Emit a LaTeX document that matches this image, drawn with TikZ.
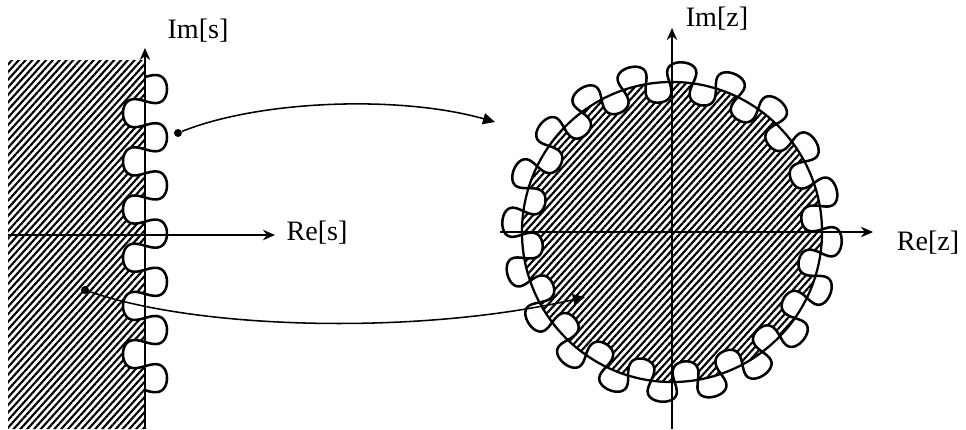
\documentclass[tikz,border=0pt]{standalone}
\usepackage{fontspec}
\setmainfont{Liberation Serif}
\usetikzlibrary{arrows.meta,patterns.meta}
\tikzset{
  axis/.style={-{Stealth[length=3mm, width=2.6mm]}, draw=black},
  coil/.style={draw=black, line width=1.8pt, line join=round},
  hatch/.style={pattern={Lines[angle=48, distance=3.6pt, line width=1.5pt]}, pattern color=black},
  mapto/.style={-{Triangle[length=3mm, width=2.8mm]}, draw=black, line width=1.1pt},
  dotnode/.style={circle, fill=black, inner sep=0pt, minimum size=2mm},
  lbl/.style={font=\fontsize{20}{24}\selectfont, inner sep=0pt},
}
\begin{document}
\begin{tikzpicture}[x=0.025cm, y=-0.025cm]
    \useasboundingbox (0,0) rectangle (966,429);
    % s-plane
    \begin{scope}
      \clip (8,60) rectangle (145,429);
      \fill[hatch] (0,40) -- (145,40) -- (145,77)
        -- plot[domain=0:40.84, samples=500] ({145+22*sin(\x r)}, {77+7.67*\x-6.9*sin(2*\x r)})
        -- (145,429) -- (0,429) -- cycle;
    \end{scope}
    \draw[coil] plot[domain=0:40.84, samples=500] ({145+22*sin(\x r)}, {77+7.67*\x-6.9*sin(2*\x r)});
    \coordinate (sxl) at (8,235);  \coordinate (sxr) at (275,235);
    \coordinate (syb) at (145,429); \coordinate (syt) at (145,48);
    \draw[axis, line width=1.4pt] (sxl) -- (sxr);
    \draw[axis, line width=1pt] (syb) -- (syt);
    \node[lbl] (ims) at (198,31) {Im[s]};
    \node[lbl] (res) at (317,233) {Re[s]};
    % z-plane
    \begin{scope}
      \clip (672,232) circle (3.75cm);
      \fill[hatch] plot[domain=0:360, samples=900]
        ({672+(150+20*sin(20*\x))*cos(\x+10-2.58*sin(40*\x))},
         {232-(150+20*sin(20*\x))*sin(\x+10-2.58*sin(40*\x))}) -- cycle;
    \end{scope}
    \draw[line width=1.6pt] (672,232) circle (3.75cm);
    \draw[coil] plot[domain=0:360, samples=900]
        ({672+(150+20*sin(20*\x))*cos(\x+10-2.58*sin(40*\x))},
         {232-(150+20*sin(20*\x))*sin(\x+10-2.58*sin(40*\x))}) -- cycle;
    \coordinate (zxl) at (500,232); \coordinate (zxr) at (873,232);
    \coordinate (zyb) at (672,429); \coordinate (zyt) at (672,28);
    \draw[axis, line width=2pt] (zxl) -- (zxr);
    \draw[axis, line width=2pt] (zyb) -- (zyt);
    \node[lbl] (imz) at (717,19) {Im[z]};
    \node[lbl] (rez) at (928,243) {Re[z]};
    % mapping
    \node[dotnode] (pu) at (178,133) {};
    \node[dotnode] (pl) at (85,290) {};
    \coordinate (qu) at (495,122);
    \coordinate (ql) at (585,297);
    \draw[mapto] (pu) .. controls (260,100) and (400,95) .. (qu);
    \draw[mapto] (pl) .. controls (200,330) and (420,335) .. (ql);
  \end{tikzpicture}
\end{document}
